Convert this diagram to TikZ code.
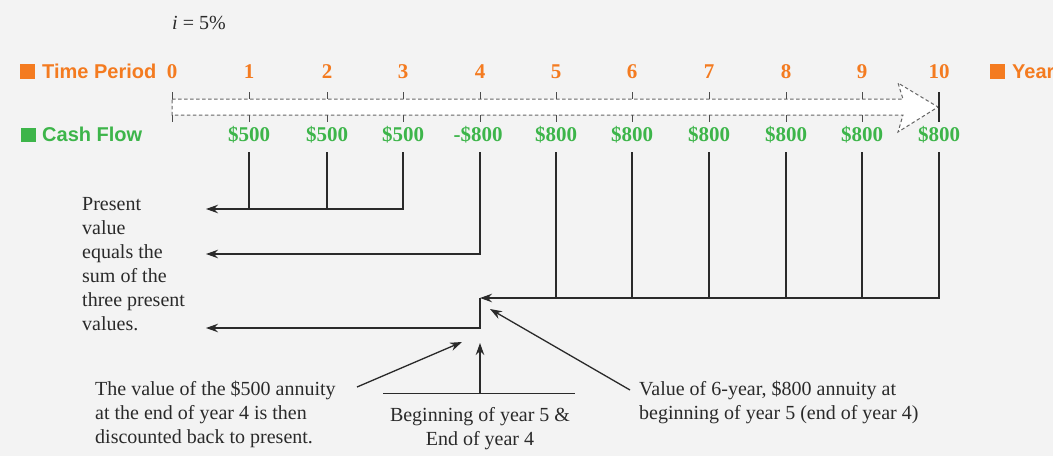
\documentclass[tikz,border=0pt]{standalone}
\usepackage{fontspec}
\setmainfont{Liberation Serif}
\newfontfamily\labelsans{Liberation Sans}
\usetikzlibrary{arrows.meta}
\definecolor{tporange}{HTML}{F47B20}
\definecolor{cfgreen}{HTML}{3DB54A}
\definecolor{bgcol}{HTML}{F3F3F3}
\definecolor{ink}{HTML}{2A2A2A}
\begin{document}
\begin{tikzpicture}[x=1pt,y=-1pt,
  conn/.style={line width=1.3pt, draw=ink},
  arr/.style={conn,-{Stealth[length=12pt,width=8.5pt]}},
  tick/.style={line width=1pt, draw=black!70},
  period/.style={font=\fontsize{21}{24}\selectfont\bfseries, text=tporange, anchor=base, inner sep=0pt},
  cash/.style={font=\fontsize{21}{24}\selectfont\bfseries, text=cfgreen, anchor=base, inner xsep=0pt, inner ysep=6pt, text depth=5pt},
  legend/.style={font=\labelsans\fontsize{20}{24}\selectfont\bfseries, anchor=base west, inner sep=0pt},
  note/.style={font=\fontsize{20}{24}\selectfont, text=ink, inner sep=0pt, anchor=base west, align=left},
]
\fill[bgcol] (0,0) rectangle (1053,456);
\useasboundingbox (0,0) rectangle (1053,456);

% rate
\node[font=\fontsize{20}{24}\selectfont, text=ink, anchor=base west, inner sep=0pt] (rate) at (172,29) {\textit{i} = 5\%};

% legends
\fill[tporange] (20,64) rectangle (35,79);
\node[legend, text=tporange] (tp) at (42,78) {Time Period};
\fill[cfgreen] (21,128) rectangle (36,142);
\node[legend, text=cfgreen] (cf) at (42,141.5) {Cash Flow};
\fill[tporange] (990,64) rectangle (1005,79);
\node[legend, text=tporange] (yrs) at (1012,78) {Years};

% timeline arrow (dashed outline)
\draw[draw=black!60, fill=white, line width=1pt, dash pattern=on 3.5pt off 2.5pt]
  (172,99) -- (903,99) -- (898,83) -- (938,107) -- (898,132) -- (903,115) -- (172,115) -- cycle;
\foreach \x in {172,249,327,403,480,556,632,709,786,862} {
  \draw[tick] (\x,92) -- (\x,99);
  \draw[tick] (\x,115) -- (\x,122);
}
\draw[conn] (939,92) -- (939,122);

% period labels
\foreach \k/\x in {0/172,1/249,2/327,3/403,4/480,5/556,6/632,7/709,8/786,9/862,10/939}
  \node[period] (t\k) at (\x,78) {\k};

% cash flows
\node[cash] (c1) at (249,141) {\$500};
\node[cash] (c2) at (327,141) {\$500};
\node[cash] (c3) at (403,141) {\$500};
\node[cash] (c4) at (478,141) {-\$800};
\node[cash] (c5) at (556,141) {\$800};
\node[cash] (c6) at (632,141) {\$800};
\node[cash] (c7) at (709,141) {\$800};
\node[cash] (c8) at (786,141) {\$800};
\node[cash] (c9) at (862,141) {\$800};
\node[cash] (c10) at (939,141) {\$800};

% connectors
\coordinate (pv1) at (206,209);
\coordinate (pv2) at (206,254);
\coordinate (pv3) at (206,328);
\coordinate (fv) at (480,298);
\draw[conn] (c1.south) -- (c1.south |- pv1);
\draw[conn] (c2.south) -- (c2.south |- pv1);
\draw[arr] (c3.south) |- (pv1);
\draw[arr] (c4.south -| fv) |- (pv2);
\foreach \k in {5,...,9} \draw[conn] (c\k.south) -- (c\k.south |- fv);
\draw[arr] (c10.south) |- (fv);
\draw[arr] (fv) |- (pv3);

% left text (base anchor = last line)
\node[note] (pvtext) at (82,330) {Present\\value\\equals the\\sum of the\\three present\\values.};

% bottom notes
\node[note] (ann500) at (95,443) {The value of the \$500 annuity\\at the end of year 4 is then\\discounted back to present.};
\node[note, anchor=base, align=center] (beg) at (480,445) {Beginning of year 5 \&\\End of year 4};
\node[note] (val6) at (639,419) {Value of 6-year, \$800 annuity at\\beginning of year 5 (end of year 4)};

\coordinate (fromA) at (357,387);
\coordinate (tipA) at (462,342);
\draw[arr] (fromA) -- (tipA);
\coordinate (barL) at (383,393);
\coordinate (barR) at (575,393);
\coordinate (barM) at (480,393);
\coordinate (tipU) at (480,343);
\draw[conn, line width=1pt] (barL) -- (barR);
\draw[arr] (barM) -- (tipU);
\coordinate (fromB) at (630,390);
\coordinate (tipB) at (490,309);
\draw[arr] (fromB) -- (tipB);
\end{tikzpicture}
\end{document}
